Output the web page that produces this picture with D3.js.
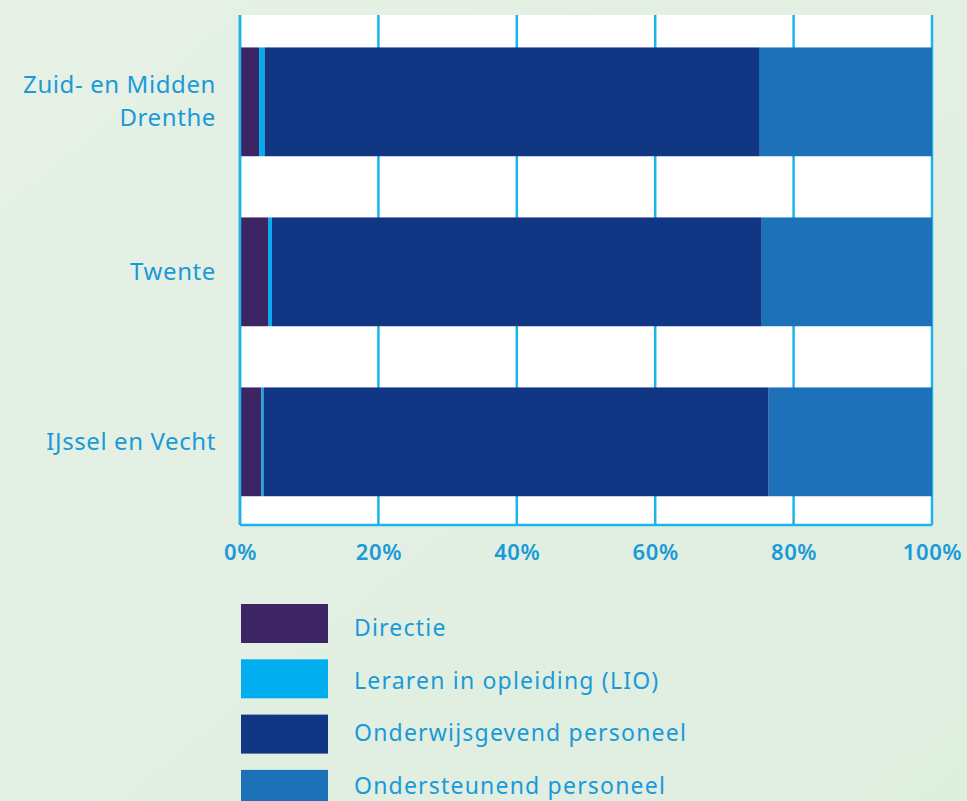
<!DOCTYPE html>
<html>
<head>
<meta charset="utf-8">
<script src="https://cdn.jsdelivr.net/npm/d3@7"></script>
<style>
  html, body { margin: 0; padding: 0; }
  body { width: 967px; height: 801px; overflow: hidden; }
</style>
</head>
<body>
<div id="chart"></div>
<script>
// categories and series (percent of personnel per region)
const regions = ["Zuid- en Midden Drenthe", "Twente", "IJssel en Vecht"];
const seriesNames = ["Directie", "Leraren in opleiding (LIO)", "Onderwijsgevend personeel", "Ondersteunend personeel"];
const directie = [2.75, 4.05, 3.1];
const lio = [0.8, 0.55, 0.3];
const onderwijsgevend = [71.45, 70.8, 73.0];
const ondersteunend = [25.0, 24.6, 23.6];
const xTicks = [0, 20, 40, 60, 80, 100];

const colors = ["#3d2564", "#00aeef", "#113684", "#1d71b8"];
const textColor = "#1a9ad8";
const gridColor = "#1cb4ec";
const font = "'Noto Sans', sans-serif";

const width = 967, height = 801;
const margin = { top: 15, right: 35, bottom: 276, left: 240 };
const innerWidth = width - margin.left - margin.right;
const innerHeight = height - margin.top - margin.bottom;

const svg = d3.select("#chart")
    .append("svg")
    .attr("width", width)
    .attr("height", height);

// background gradient
const defs = svg.append("defs");
const grad = defs.append("linearGradient")
    .attr("id", "bg")
    .attr("x1", "0").attr("y1", "0").attr("x2", "1").attr("y2", "1");
grad.append("stop").attr("offset", "0%").attr("stop-color", "#e7f1e6");
grad.append("stop").attr("offset", "100%").attr("stop-color", "#deeedf");
svg.append("rect").attr("width", width).attr("height", height).attr("fill", "url(#bg)");

const g = svg.append("g").attr("transform", `translate(${margin.left},${margin.top})`);

// build table for stacking
const table = regions.map((r, i) => ({
    region: r,
    [seriesNames[0]]: directie[i],
    [seriesNames[1]]: lio[i],
    [seriesNames[2]]: onderwijsgevend[i],
    [seriesNames[3]]: ondersteunend[i]
}));
const stacked = d3.stack().keys(seriesNames)(table);

const x = d3.scaleLinear().domain([0, 100]).range([0, innerWidth]);
const y = d3.scaleBand().domain(regions).range([0, innerHeight])
    .paddingInner(0.36).paddingOuter(0.18).align(0.53);

// white plot area
g.append("rect").attr("width", innerWidth).attr("height", innerHeight).attr("fill", "#fff");

// gridlines
g.append("g")
    .selectAll("line")
    .data(xTicks)
    .enter()
    .append("line")
    .attr("x1", d => x(d)).attr("x2", d => x(d))
    .attr("y1", 0).attr("y2", innerHeight)
    .attr("stroke", gridColor)
    .attr("stroke-width", 2.5);

// bars
g.append("g")
    .selectAll("g")
    .data(stacked)
    .enter()
    .append("g")
    .attr("fill", (d, i) => colors[i])
    .selectAll("rect")
    .data(d => d)
    .enter()
    .append("rect")
    .attr("x", d => x(d[0]))
    .attr("width", d => x(d[1]) - x(d[0]))
    .attr("y", d => y(d.data.region))
    .attr("height", y.bandwidth());

// bottom axis line
g.append("line")
    .attr("x1", 0).attr("x2", innerWidth)
    .attr("y1", innerHeight).attr("y2", innerHeight)
    .attr("stroke", gridColor)
    .attr("stroke-width", 2.5);
// left axis line
g.append("line")
    .attr("x1", 0).attr("x2", 0)
    .attr("y1", 0).attr("y2", innerHeight)
    .attr("stroke", gridColor)
    .attr("stroke-width", 2.5);

// x tick labels
const xAxis = g.append("g")
    .attr("transform", `translate(0,${innerHeight})`)
    .call(d3.axisBottom(x).tickValues(xTicks).tickFormat(d => d + "%").tickSize(0).tickPadding(19));
xAxis.select(".domain").remove();
xAxis.selectAll("text")
    .attr("fill", textColor)
    .style("font-family", font)
    .style("font-size", "22px")
    .style("font-weight", "600")
    .style("letter-spacing", "0.6px");

// category labels (wrapped)
const labelLines = { "Zuid- en Midden Drenthe": ["Zuid- en Midden", "Drenthe"] };
const yLabels = g.append("g");
regions.forEach(r => {
    const lines = labelLines[r] || [r];
    const cy = y(r) + y.bandwidth() / 2;
    const t = yLabels.append("text")
        .attr("text-anchor", "end")
        .attr("x", -24)
        .attr("fill", textColor)
        .style("font-family", font)
        .style("font-size", "24px")
        .style("letter-spacing", "0.6px");
    lines.forEach((l, j) => {
        t.append("tspan")
            .attr("x", -24)
            .attr("y", cy + 8 + (j - (lines.length - 1) / 2) * 33)
            .text(l);
    });
});

// legend (swatches and labels are spaced slightly differently in the original)
const legend = svg.append("g").attr("transform", "translate(241,604)");
seriesNames.forEach((s, i) => {
    legend.append("rect")
        .attr("y", i * 55.3)
        .attr("width", 87).attr("height", 39)
        .attr("fill", colors[i]);
    legend.append("text")
        .attr("x", 113).attr("y", 32 + i * 52.7)
        .attr("fill", textColor)
        .style("font-family", font)
        .style("font-size", "23px")
        .style("letter-spacing", "1.2px")
        .text(s);
});
</script>
</body>
</html>
